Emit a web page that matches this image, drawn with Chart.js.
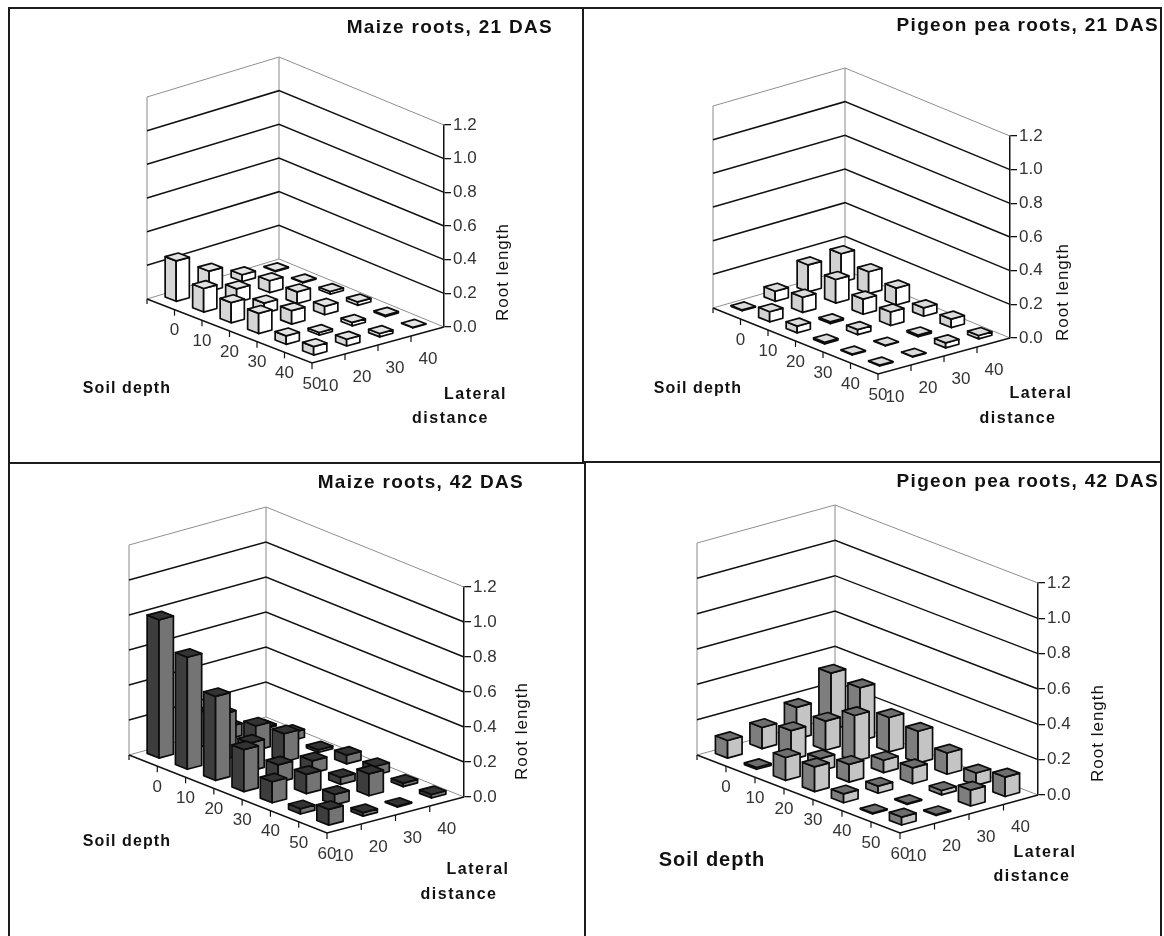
<!DOCTYPE html>
<html><head><meta charset="utf-8">
<script src="https://cdn.jsdelivr.net/npm/chart.js@4/dist/chart.umd.js"></script>
<style>
html,body{margin:0;padding:0;background:#fff;width:1164px;height:936px;overflow:hidden}
canvas{position:absolute;display:block;filter:blur(.4px)}
.r{position:absolute;background:#1c1c1c}
</style></head><body>
<canvas id="c1" width="573" height="453" style="left:10px;top:9px"></canvas>
<canvas id="c2" width="576" height="452" style="left:584px;top:9px"></canvas>
<canvas id="c3" width="574" height="472" style="left:10px;top:464px"></canvas>
<canvas id="c4" width="575" height="473" style="left:586px;top:463px"></canvas>
<div class="r" style="left:8px;top:7px;width:1154px;height:2px"></div>
<div class="r" style="left:8px;top:7px;width:2px;height:929px"></div>
<div class="r" style="left:582px;top:7px;width:2px;height:456px"></div>
<div class="r" style="left:8px;top:462px;width:576px;height:2px"></div>
<div class="r" style="left:584px;top:461px;width:578px;height:2px"></div>
<div class="r" style="left:584px;top:462px;width:2px;height:474px"></div>
<div class="r" style="left:1160px;top:7px;width:2px;height:929px"></div>
<script>
// ---- data ----
const lateralDistance = [10, 20, 30, 40];
const soilDepth21 = [0, 10, 20, 30, 40, 50];
const soilDepth42 = [0, 10, 20, 30, 40, 50, 60];
// one row per soil depth, one value per lateral distance
const maize21 = [
  [.24, .12, .04, .005],
  [.14, .08, .07, .005],
  [.12, .06, .07, .015],
  [.12, .08, .05, .02],
  [.05, .015, .02, .008],
  [.05, .04, .02, .003]
];
const pigeon21 = [
  [.005, .06, .16, .17],
  [.06, .09, .14, .13],
  [.04, .01, .09, .10],
  [.01, .03, .08, .05],
  [.005, .003, .01, .05],
  [.005, .003, .03, .02]
];
const maize42 = [
  [.79, .20, .07, .01],
  [.64, .26, .14, .045],
  [.48, .16, .16, .015],
  [.24, .10, .07, .05],
  [.12, .11, .04, .05],
  [.03, .06, .125, .02],
  [.09, .02, .005, .02]
];
const pigeon42 = [
  [.10, .12, .18, .32],
  [.01, .165, .165, .30],
  [.13, .07, .26, .195],
  [.14, .10, .07, .18],
  [.05, .04, .09, .12],
  [.005, .005, .025, .07],
  [.045, .005, .09, .11]
];
const titles = ['Maize roots, 21 DAS', 'Pigeon pea roots, 21 DAS', 'Maize roots, 42 DAS', 'Pigeon pea roots, 42 DAS'];
const valueTickStep = 0.2, valueMax = 1.2;

// ---- view geometry (page pixels) and styles ----
const SANS = '"Liberation Sans", Arial, sans-serif';
const views = {
  c1: {left:10, top:9, w:573, h:453, A:[147,299], B:[312,363], C:[444,327], D:[279,259], topY:125, size:.2,
       title:[553,28], soil:[127,389,16,1.1], lat1:[475.5,395], lat2:[450.5,419], root:[503,272],
       faces:['#d6d6d6','#ffffff','#e4e4e4'], depths:soilDepth21, values:maize21, name:titles[0]},
  c2: {left:584, top:9, w:576, h:452, A:[713,308], B:[878,374], C:[1010,338], D:[845,270], topY:136, size:.2,
       title:[1159,26], soil:[698,389,16,1.1], lat1:[1041,394], lat2:[1018,419], root:[1063,292],
       faces:['#d2d2d2','#ffffff','#dcdcdc'], depths:soilDepth21, values:pigeon21, name:titles[1]},
  c3: {left:10, top:464, w:574, h:472, A:[129,755], B:[327,833], C:[464,797], D:[266,717], topY:587, size:.21,
       title:[524,483], soil:[127,842,16,1.1], lat1:[478,870], lat2:[459,895], root:[522,731],
       faces:['#3d3d3d','#747474','#333333'], depths:soilDepth42, values:maize42, name:titles[2]},
  c4: {left:586, top:463, w:575, h:473, A:[697,755], B:[900,833], C:[1038,795], D:[835,717], topY:583, size:.21,
       title:[1159,482], soil:[712,860,20,1], lat1:[1045,853], lat2:[1032,877], root:[1098,733],
       faces:['#7e7e7e','#c4c4c4','#6e6e6e'], depths:soilDepth42, values:pigeon42, name:titles[3]}
};
const lerp2 = (p, q, t) => [p[0] + (q[0] - p[0]) * t, p[1] + (q[1] - p[1]) * t];
// floor position for fractional depth u (0..1) and lateral v (0..1), relative to the right corner
function floorOffset(view, u, v) {
  const p = lerp2(lerp2(view.A, view.B, u), lerp2(view.D, view.C, u), v);
  return [p[0] - view.C[0], p[1] - view.C[1]];
}

// ---- a bar element drawn as a cuboid ----
class Bar3DElement extends Chart.BarElement {
  static id = 'bar3d';
  draw(ctx) {
    const {x, y, base} = this;
    const view = this.$view;
    if (!view) return;
    const nd = view.depths.length, nl = lateralDistance.length;
    const a = view.size;
    const dx = (view.B[0] - view.A[0]) / nd * a, dy = (view.B[1] - view.A[1]) / nd * a;
    const lx = (view.C[0] - view.B[0]) / nl * a, ly = (view.C[1] - view.B[1]) / nl * a;
    const F = [dx - lx, dy - ly], R = [dx + lx, dy + ly], L = [-dx - lx, -dy - ly], K = [-dx + lx, -dy + ly];
    const poly = (pts, fill) => {
      ctx.beginPath();
      pts.forEach((p, i) => i ? ctx.lineTo(p[0], p[1]) : ctx.moveTo(p[0], p[1]));
      ctx.closePath();
      ctx.fillStyle = fill;
      ctx.fill();
      ctx.stroke();
    };
    const at = (o, yy) => [x + o[0], yy + o[1]];
    ctx.save();
    ctx.strokeStyle = '#0c0c0c';
    ctx.lineWidth = 1.7;
    ctx.lineJoin = 'round';
    poly([at(L, base), at(F, base), at(F, y), at(L, y)], view.faces[0]);
    poly([at(F, base), at(R, base), at(R, y), at(F, y)], view.faces[1]);
    poly([at(L, y), at(F, y), at(R, y), at(K, y)], view.faces[2]);
    ctx.restore();
  }
}
class Bar3DController extends Chart.BarController {
  static id = 'bar3d';
  static defaults = {dataElementType: 'bar3d'};
  static overrides = Chart.BarController.overrides;
  updateElement(el, index, props, mode) {
    const view = views[this.chart.canvas.id];
    const yScale = this.chart.scales.y;
    const d = this.getDataset().depthIndex;
    const off = floorOffset(view, (d + .5) / view.depths.length, (index + .5) / lateralDistance.length);
    const y0 = yScale.getPixelForValue(0);
    const lift = -2;
    const value = this.getParsed(index).y;
    props.x = yScale.left + off[0];
    props.base = y0 + off[1] + lift;
    props.y = yScale.getPixelForValue(value) + off[1] + lift;
    el.$view = view;
    super.updateElement(el, index, props, mode);
  }
  draw() {
    const rects = this._cachedMeta.data;
    for (let i = rects.length - 1; i >= 0; --i) rects[i].draw(this._ctx);
  }
}
Chart.register(Bar3DElement, Bar3DController);

// ---- walls, floor, depth/lateral axes, captions ----
const wallsPlugin = {
  id: 'walls',
  afterLayout(chart) {
    const view = views[chart.canvas.id];
    const block = chart.titleBlock;
    if (!block) return;
    block.right = view.title[0] - view.left;
    if (!block.$spaced) {
      const original = block.draw;
      block.draw = function () {
        chart.ctx.letterSpacing = '1.3px';
        original.call(this);
        chart.ctx.letterSpacing = '0px';
      };
      block.$spaced = true;
    }
  },
  beforeDatasetsDraw(chart) {
    const view = views[chart.canvas.id];
    const ctx = chart.ctx, s = chart.scales.y;
    const y0 = s.getPixelForValue(0), cx = s.left;
    const pt = (u, v) => { const o = floorOffset(view, u, v); return [cx + o[0], y0 + o[1]]; };
    const A = pt(0, 0), B = pt(1, 0), C = pt(1, 1), D = pt(0, 1);
    const line = (pts, color, w) => {
      ctx.beginPath();
      pts.forEach((p, i) => i ? ctx.lineTo(p[0], p[1]) : ctx.moveTo(p[0], p[1]));
      ctx.strokeStyle = color; ctx.lineWidth = w; ctx.stroke();
    };
    ctx.save();
    const yTop = s.getPixelForValue(valueMax);
    const up = yTop - y0;
    // wall verticals
    line([A, [A[0], A[1] + up]], '#8a8a8a', 1);
    line([D, [D[0], D[1] + up]], '#8a8a8a', 1);
    // value grid lines along both walls
    s.ticks.forEach(t => {
      const h = s.getPixelForValue(t.value) - y0;
      const top = t.value >= valueMax - 1e-6, bottom = t.value <= 1e-6;
      const col = (top || bottom) ? '#8f8f8f' : '#111';
      line([[A[0], A[1] + h], [D[0], D[1] + h], [C[0], C[1] + h]], col, (top || bottom) ? 1 : 1.5);
    });
    // front floor edges and their ticks
    line([A, B, C], '#111', 1.5);
    const nd = view.depths.length, nl = lateralDistance.length;
    line([A, [A[0], A[1] + 5]], '#111', 1.2);
    ctx.fillStyle = '#333';
    ctx.font = '17px ' + SANS;
    ctx.textAlign = 'center'; ctx.textBaseline = 'middle';
    view.depths.forEach((lab, i) => {
      const p = pt((i + 1) / nd, 0);
      line([p, [p[0], p[1] + 6]], '#111', 1.2);
      ctx.fillText(String(lab), p[0], p[1] + 21);
    });
    lateralDistance.forEach((lab, i) => {
      const p = pt(1, i / nl);
      if (i) line([p, [p[0], p[1] + 6]], '#111', 1.2);
      ctx.fillText(String(lab), p[0] + 17, p[1] + 23);
    });
    // captions
    const ox = view.left, oy = view.top;
    ctx.fillStyle = '#111';
    ctx.letterSpacing = view.soil[3] + 'px';
    ctx.font = 'bold ' + view.soil[2] + 'px ' + SANS;
    ctx.fillText('Soil depth', view.soil[0] - ox, view.soil[1] - oy);
    ctx.letterSpacing = '1.5px';
    ctx.font = 'bold 16px ' + SANS;
    ctx.fillText('Lateral', view.lat1[0] - ox, view.lat1[1] - oy);
    ctx.fillText('distance', view.lat2[0] - ox, view.lat2[1] - oy);
    ctx.letterSpacing = '1px';
    ctx.save();
    ctx.translate(view.root[0] - ox, view.root[1] - oy);
    ctx.rotate(-Math.PI / 2);
    ctx.font = '17px ' + SANS;
    ctx.fillText('Root length', 0, 0);
    ctx.restore();
    ctx.letterSpacing = '0px';
    ctx.restore();
  }
};

// ---- build the four charts ----
Object.keys(views).forEach(id => {
  const view = views[id];
  const titleSize = 19, lh = titleSize * 1.2;
  const tc = view.title[1] - view.top;
  new Chart(document.getElementById(id), {
    type: 'bar3d',
    data: {
      labels: lateralDistance.map(String),
      datasets: view.depths.map((depth, d) => ({
        label: 'Soil depth ' + depth,
        data: view.values[d],
        depthIndex: d,
        order: view.depths.length - d,
        clip: false,
        backgroundColor: view.faces[1],
        borderColor: '#0c0c0c'
      }))
    },
    options: {
      responsive: false,
      animation: false,
      layout: {padding: {left: 0, right: 0, top: 0, bottom: view.h - (view.C[1] - view.top)}},
      plugins: {
        legend: {display: false},
        tooltip: {enabled: false},
        title: {
          display: true, text: view.name, align: 'end', color: '#111',
          font: {family: SANS, size: titleSize, weight: 'bold'},
          padding: {top: tc - lh / 2, bottom: (view.topY - view.top) - tc - lh / 2}
        }
      },
      scales: {
        x: {display: false},
        y: {
          position: 'right', min: 0, max: valueMax,
          afterFit: sc => { sc.width = view.left + view.w - view.C[0]; },
          grid: {display: true, drawOnChartArea: false, drawTicks: true, tickLength: 7, color: '#111', lineWidth: 1.3},
          border: {display: true, color: '#111', width: 1.5},
          ticks: {stepSize: valueTickStep, padding: 2, color: '#333', font: {family: SANS, size: 17},
                  callback: v => Number(v).toFixed(1)}
        }
      }
    },
    plugins: [wallsPlugin]
  });
});
</script>
</body></html>
